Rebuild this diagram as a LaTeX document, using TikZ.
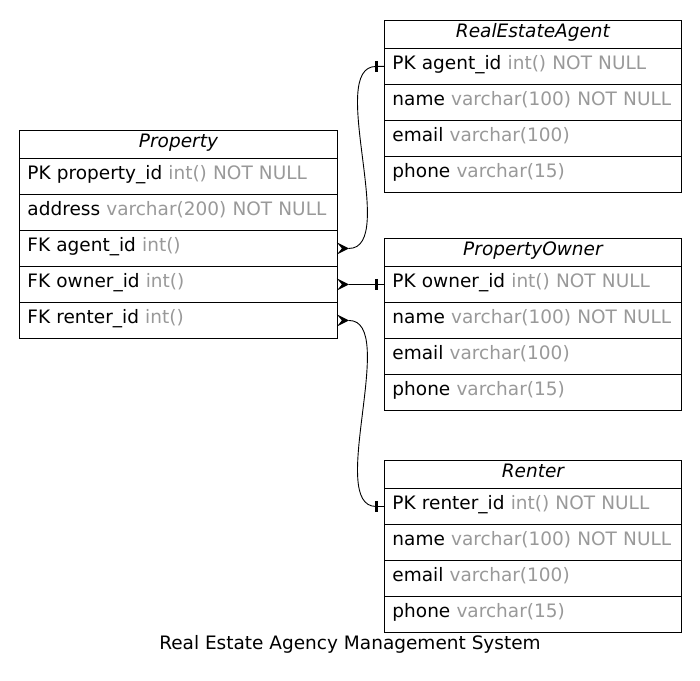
\documentclass[tikz,border=0pt]{standalone}
\usepackage{fontspec}
\setmainfont{DejaVu Sans}
\definecolor{typegray}{RGB}{153,153,153}
\newcommand{\ty}[1]{\textcolor{typegray}{#1}}
\begin{document}
\begin{tikzpicture}[x=1bp,y=-1bp,
  cell/.style={draw, line width=0.9bp, anchor=north west, inner xsep=8bp, inner ysep=0pt,
    minimum height=36bp, text width=#1, text height=14bp, text depth=8bp, align=left,
    font=\fontsize{18.5bp}{21bp}\selectfont},
  head/.style={draw, line width=0.9bp, anchor=north west, inner xsep=8bp, inner ysep=0pt,
    minimum height=28bp, text width=#1, text height=14bp, text depth=8bp, align=center,
    font=\fontsize{18.5bp}{21bp}\selectfont\itshape},
  conn/.style={line width=0.9bp},
  tee/.style={line width=3bp},
  crow/.style={fill=black}
]
\useasboundingbox (0,0) rectangle (700,681);

% Property
\node[head=302bp] (P0) at (19,130) {Property};
\node[cell=302bp] (p1) at (19,158) {PK property\_id \ty{int() NOT NULL}};
\node[cell=302bp] (p2) at (19,194) {address \ty{varchar(200) NOT NULL}};
\node[cell=302bp] (p3) at (19,230) {FK agent\_id \ty{int()}};
\node[cell=302bp] (p4) at (19,266) {FK owner\_id \ty{int()}};
\node[cell=302bp] (p5) at (19,302) {FK renter\_id \ty{int()}};

% RealEstateAgent
\node[head=281bp] (A0) at (384,20) {RealEstateAgent};
\node[cell=281bp] (a1) at (384,48) {PK agent\_id \ty{int() NOT NULL}};
\node[cell=281bp] (a2) at (384,84) {name \ty{varchar(100) NOT NULL}};
\node[cell=281bp] (a3) at (384,120) {email \ty{varchar(100)}};
\node[cell=281bp] (a4) at (384,156) {phone \ty{varchar(15)}};

% PropertyOwner
\node[head=281bp] (O0) at (384,238) {PropertyOwner};
\node[cell=281bp] (o1) at (384,266) {PK owner\_id \ty{int() NOT NULL}};
\node[cell=281bp] (o2) at (384,302) {name \ty{varchar(100) NOT NULL}};
\node[cell=281bp] (o3) at (384,338) {email \ty{varchar(100)}};
\node[cell=281bp] (o4) at (384,374) {phone \ty{varchar(15)}};

% Renter
\node[head=281bp] (R0) at (384,460) {Renter};
\node[cell=281bp] (r1) at (384,488) {PK renter\_id \ty{int() NOT NULL}};
\node[cell=281bp] (r2) at (384,524) {name \ty{varchar(100) NOT NULL}};
\node[cell=281bp] (r3) at (384,560) {email \ty{varchar(100)}};
\node[cell=281bp] (r4) at (384,596) {phone \ty{varchar(15)}};

% caption
\node[font=\fontsize{18.5bp}{21bp}\selectfont] (cap) at (350,644) {Real Estate Agency Management System};

% crow's feet
\foreach \n in {p3,p4,p5}{
  \fill[crow] ([xshift=-1bp,yshift=6bp]\n.east) -- ([xshift=11bp]\n.east) -- ([xshift=-1bp,yshift=-6bp]\n.east) -- ([xshift=4bp]\n.east) -- cycle;
}
% tees
\foreach \n in {a1,o1,r1}{
  \draw[tee] ([xshift=-8bp,yshift=5.5bp]\n.west) -- ([xshift=-8bp,yshift=-5.5bp]\n.west);
}

% connectors
\draw[conn] ([xshift=11bp]p3.east) .. controls +(50,0) and +(-50,0) .. ([xshift=-8bp]a1.west) -- (a1.west);
\draw[conn] ([xshift=11bp]p4.east) -- (o1.west);
\draw[conn] ([xshift=11bp]p5.east) .. controls +(50,0) and +(-50,0) .. ([xshift=-8bp]r1.west) -- (r1.west);
\end{tikzpicture}
\end{document}
